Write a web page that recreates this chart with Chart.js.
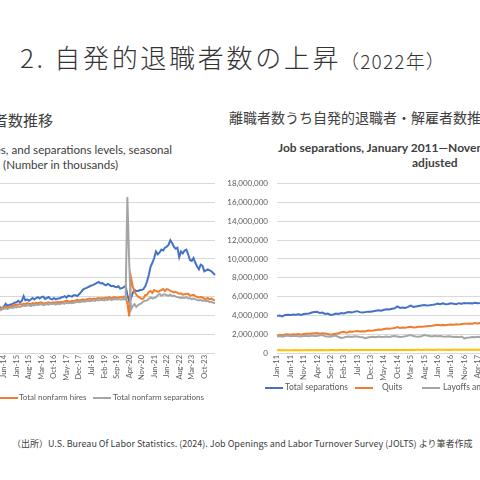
<!DOCTYPE html>
<html>
<head>
<meta charset="utf-8">
<script src="https://cdn.jsdelivr.net/npm/chart.js@4.4.1/dist/chart.umd.min.js"></script>
<style>
  html, body { margin: 0; padding: 0; background: #fff; }
  #slide { position: relative; width: 480px; height: 480px; overflow: hidden; background: #fff;
           font-family: "Noto Sans CJK JP", sans-serif; color: #404040; }
  .t { position: absolute; white-space: nowrap; line-height: 1; }
  .en { font-family: Lato, sans-serif; }
  .ln { position: absolute; height: 2px; width: 18px; }
  .lg { position: absolute; white-space: nowrap; line-height: 1; font-family: Lato, sans-serif; color: #595959; }
  canvas { position: absolute; }
</style>
</head>
<body>
<div id="slide">
  <div class="t" style="left:20px;top:44px;font-size:26px;font-weight:300;letter-spacing:2.7px;color:#333;">2. 自発的退職者数の上昇</div>
  <div class="t" style="left:340px;top:51px;font-size:19px;font-weight:300;letter-spacing:1.2px;color:#333;">（2022年）</div>

  <div class="t" style="right:427px;top:112px;font-size:15px;">求人数・採用者数・離職者数推移</div>
  <div class="t" style="left:229px;top:110px;font-size:14px;">離職者数うち自発的退職者・解雇者数推移</div>

  <div class="t en" style="right:308px;top:144px;font-size:11.6px;">Job openings, hires, and separations levels, seasonal</div>
  <div class="t en" style="right:362px;top:159px;font-size:11.6px;">adjusted (Number in thousands)</div>

  <div class="t en" style="left:278px;top:142px;font-size:12px;font-weight:bold;">Job separations, January 2011—November 2023, seasonally</div>
  <div class="t en" style="left:412px;top:157px;font-size:12px;font-weight:bold;">adjusted</div>

  <canvas id="left" width="280" height="213" style="left:-55px;top:170px;"></canvas>
  <canvas id="right" width="284" height="213" style="left:225px;top:170px;"></canvas>

  <div class="ln" style="left:-80px;top:397px;background:#4472C4;"></div>
  <div class="lg" style="left:-60px;top:393px;font-size:8px;">Job openings</div>
  <div class="ln" style="left:0px;top:397px;background:#ED7D31;"></div>
  <div class="lg" style="left:19px;top:393px;font-size:8px;">Total nonfarm hires</div>
  <div class="ln" style="left:93px;top:397px;background:#A5A5A5;"></div>
  <div class="lg" style="left:113px;top:393px;font-size:8px;">Total nonfarm separations</div>

  <div class="ln" style="left:265px;top:387px;background:#4472C4;"></div>
  <div class="lg" style="left:285px;top:383px;font-size:8.5px;">Total separations</div>
  <div class="ln" style="left:355px;top:387px;background:#ED7D31;"></div>
  <div class="lg" style="left:382px;top:383px;font-size:8.5px;">Quits</div>
  <div class="ln" style="left:422px;top:387px;background:#A5A5A5;"></div>
  <div class="lg" style="left:443px;top:383px;font-size:8.5px;">Layoffs and discharges</div>

  <div class="t" style="left:12px;top:439px;font-size:9px;">（出所）U.S. Bureau Of Labor Statistics. (2024). Job Openings and Labor Turnover Survey (JOLTS) より筆者作成</div>
</div>

<script>
// left chart: Jan 2014 - Apr 2024, thousands
const openings = [
  4500, 4600, 4800, 4850, 4750, 4950, 5250, 5000, 5100, 5150, 5250, 5350,
  5400, 5550, 5400, 5550, 6050, 5600, 5700, 5550, 5700, 5850, 5700, 5850,
  5950, 5800, 5950, 6000, 5750, 5850, 5950, 5750, 5700, 5850, 5700, 5800,
  5800, 5900, 5950, 6050, 5900, 6100, 6050, 6000, 6150, 6150, 6050, 6250,
  6450, 6700, 6850, 6900, 7000, 7100, 7200, 7250, 7350, 7450, 7550, 7400,
  7450, 7300, 7200, 7350, 7250, 7100, 7150, 7050, 7000, 7100, 6850, 6900,
  7000, 7150, 6200, 5500, 5800, 6400, 6700, 6600, 6600, 6700, 6700, 6800,
  7100, 7600, 8300, 9200, 9600, 10100, 10800, 10500, 10700, 11000, 10900, 11200,
  11300, 11500, 12000, 11700, 11300, 11100, 11200, 10200, 10800, 10600, 10900, 11000,
  10500, 9900, 9800, 10100, 9600, 9200, 8900, 9400, 9300, 8700, 8800, 8900,
  8800, 8700, 8500, 8300
];
const hires = [
  4600, 4650, 4700, 4750, 4800, 4850, 4900, 4880, 4950, 5000, 4980, 5100,
  5100, 5150, 5200, 5150, 5250, 5200, 5300, 5250, 5200, 5300, 5250, 5350,
  5300, 5350, 5400, 5250, 5300, 5350, 5400, 5300, 5350, 5400, 5350, 5450,
  5350, 5450, 5400, 5500, 5550, 5500, 5450, 5550, 5500, 5600, 5650, 5600,
  5600, 5700, 5650, 5700, 5750, 5800, 5700, 5800, 5750, 5800, 5850, 5800,
  5850, 5800, 5900, 5850, 5950, 5800, 5900, 5950, 5850, 5900, 5950, 5900,
  6000, 5900, 5300, 3900, 8050, 7100, 6500, 6200, 6000, 5900, 5750, 5800,
  6150, 6200, 6500, 6600, 6400, 6700, 6600, 6500, 6600, 6700, 6800, 6600,
  6800, 6750, 6600, 6550, 6450, 6500, 6400, 6300, 6350, 6200, 6250, 6300,
  6300, 6100, 6150, 6200, 6050, 5950, 5900, 5950, 5900, 5800, 5750, 5850,
  5700, 5800, 5650, 5600
];
const separations = [
  4450, 4500, 4550, 4550, 4650, 4700, 4750, 4700, 4800, 4850, 4800, 4900,
  4850, 4950, 4900, 5000, 5050, 5000, 5050, 5100, 5000, 5100, 5050, 5150,
  5100, 5150, 5200, 5100, 5150, 5200, 5150, 5250, 5200, 5250, 5150, 5250,
  5200, 5250, 5300, 5250, 5350, 5300, 5350, 5300, 5350, 5400, 5450, 5400,
  5450, 5500, 5450, 5500, 5550, 5500, 5550, 5600, 5550, 5650, 5600, 5650,
  5650, 5600, 5700, 5650, 5750, 5650, 5700, 5750, 5700, 5750, 5700, 5700,
  5750, 5700, 16600, 9800, 4600, 5000, 5200, 4900, 5100, 5200, 5300, 5500,
  5550, 5600, 5750, 5900, 5800, 5850, 5950, 6150, 6300, 6100, 6200, 6250,
  6150, 6100, 6200, 6050, 6100, 6000, 5950, 5900, 5850, 5900, 5850, 5950,
  5800, 5850, 5700, 5800, 5700, 5650, 5600, 5650, 5550, 5600, 5500, 5550,
  5400, 5450, 5350, 5300
];

// right chart: Jan 2011 - Dec 2017, thousands
const totalSep = [
  3950, 3980, 3900, 4050, 4080, 4050, 4100, 4080, 4120, 4050, 4150, 4180,
  4200, 4300, 4350, 4380, 4250, 4300, 4150, 4200, 4050, 4100, 4200, 4150,
  4250, 4200, 4300, 4350, 4300, 4400, 4450, 4350, 4300, 4350, 4400, 4380,
  4450, 4500, 4550, 4500, 4600, 4650, 4620, 4700, 4750, 4950, 4800, 4850,
  4800, 4900, 5050, 4900, 4950, 5000, 5050, 5100, 5050, 5080, 5120, 5150,
  5250, 5200, 5280, 5180, 5220, 5280, 5250, 5200, 5300, 5250, 5320, 5280,
  5300, 5280, 5350, 5300, 5330, 5380, 5350, 5400, 5360, 5420, 5400, 5450
];
const quits = [
  1850, 1950, 1900, 1980, 2000, 1950, 2000, 1980, 2020, 1950, 2030, 2050,
  2050, 2080, 2100, 2120, 2050, 2100, 2080, 2020, 1950, 2000, 2050, 2100,
  2200, 2250, 2150, 2280, 2250, 2300, 2350, 2300, 2320, 2300, 2400, 2380,
  2400, 2450, 2500, 2480, 2550, 2600, 2580, 2620, 2650, 2750, 2650, 2700,
  2680, 2750, 2780, 2720, 2750, 2800, 2780, 2820, 2850, 2880, 2900, 2950,
  3000, 2950, 2980, 2950, 3000, 3020, 3000, 3050, 3020, 3080, 3100, 3120,
  3150, 3120, 3180, 3150, 3200, 3220, 3200, 3250, 3220, 3280, 3250, 3300
];
const layoffs = [
  1750, 1800, 1720, 1800, 1850, 1780, 1820, 1800, 1780, 1750, 1800, 1820,
  1780, 1850, 1820, 1800, 1880, 1900, 1780, 1750, 1720, 1800, 1850, 1700,
  1600, 1650, 1720, 1750, 1700, 1780, 1750, 1700, 1680, 1580, 1650, 1700,
  1720, 1680, 1750, 1700, 1720, 1750, 1700, 1780, 1800, 1750, 1700, 1720,
  1780, 1850, 1900, 1800, 1750, 1720, 1780, 1900, 1850, 1800, 1750, 1820,
  1780, 1800, 1750, 1720, 1780, 1750, 1700, 1720, 1680, 1750, 1550, 1620,
  1650, 1700, 1680, 1720, 1700, 1750, 1720, 1700, 1750, 1720, 1780, 1750
];
const otherSep = [
  300, 310, 290, 300, 305, 295, 300, 310, 305, 300, 295, 305,
  310, 300, 305, 315, 300, 310, 305, 300, 310, 315, 305, 310,
  315, 310, 320, 305, 315, 310, 320, 315, 310, 320, 315, 325,
  320, 315, 325, 320, 330, 320, 325, 330, 320, 335, 325, 330,
  335, 330, 340, 325, 335, 340, 330, 345, 335, 340, 330, 345,
  340, 335, 345, 340, 330, 345, 340, 335, 345, 350, 340, 345,
  350, 345, 355, 340, 350, 345, 355, 350, 345, 355, 350, 360
];

const MONTHS = ['Jan','Feb','Mar','Apr','May','Jun','Jul','Aug','Sep','Oct','Nov','Dec'];
function monthLabels(year, n) {
  const out = [];
  for (let i = 0; i < n; i++) {
    const y = year + Math.floor(i / 12);
    out.push(MONTHS[i % 12] + '-' + String(y % 100).padStart(2, '0'));
  }
  return out;
}
const leftMonths = monthLabels(2014, openings.length);
const rightMonths = monthLabels(2011, totalSep.length);

Chart.defaults.font.family = 'Lato, sans-serif';
Chart.defaults.color = '#595959';

function line(label, data, color, order) {
  return { label, data, borderColor: color, backgroundColor: color, borderWidth: 2,
           pointRadius: 0, tension: 0, fill: false, order };
}

function options(max, step, first, every, yWidth, fmt) {
  return {
    responsive: false,
    animation: false,
    layout: { padding: { top: 13, right: 10, left: 0, bottom: 0 } },
    plugins: { legend: { display: false }, tooltip: { enabled: false } },
    scales: {
      x: {
        offset: false,
        grid: { display: false, drawTicks: false },
        border: { display: false },
        ticks: {
          autoSkip: false, minRotation: 90, maxRotation: 90, padding: 2,
          font: { size: 7.5 },
          callback: function (v, i) {
            return (i >= first && (i - first) % every === 0) ? this.getLabelForValue(v) : null;
          }
        },
        afterFit: s => { s.height = 30; }
      },
      y: {
        min: 0, max: max,
        grid: { color: '#D9D9D9', drawTicks: false },
        border: { display: false },
        ticks: { stepSize: step, padding: 9, font: { size: 8 }, callback: fmt },
        afterFit: s => { s.width = yWidth; }
      }
    }
  };
}

new Chart(document.getElementById('left'), {
  type: 'line',
  data: {
    labels: leftMonths,
    datasets: [
      line('Job openings', openings, '#4472C4', 2),
      line('Total nonfarm hires', hires, '#ED7D31', 1),
      line('Total nonfarm separations', separations, '#A5A5A5', 0)
    ]
  },
  options: options(18000, 2000, 5, 7, 50, v => v.toLocaleString('en-US'))
});

// values kept in thousands, the axis shows persons
new Chart(document.getElementById('right'), {
  type: 'line',
  data: {
    labels: rightMonths,
    datasets: [
      line('Total separations', totalSep.map(v => v * 1000), '#4472C4', 3),
      line('Quits', quits.map(v => v * 1000), '#ED7D31', 2),
      line('Layoffs and discharges', layoffs.map(v => v * 1000), '#A5A5A5', 1),
      line('Other separations', otherSep.map(v => v * 1000), '#FFC000', 0)
    ]
  },
  options: options(18000000, 2000000, 0, 5, 52, v => v.toLocaleString('en-US'))
});
</script>
</body>
</html>
